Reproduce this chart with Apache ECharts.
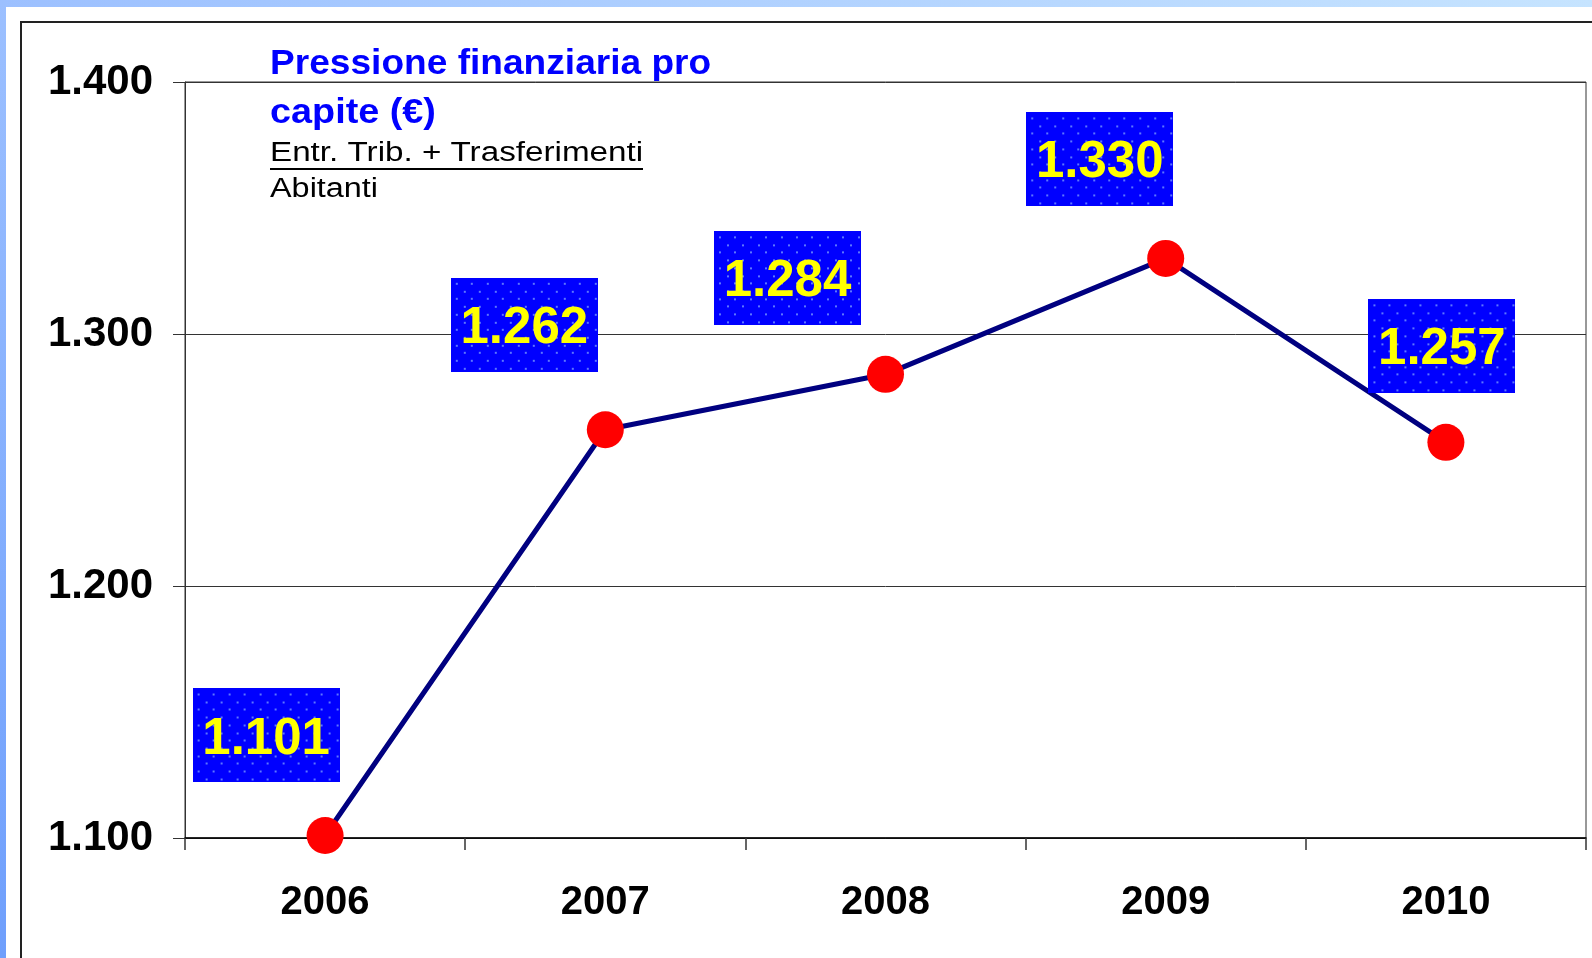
<!DOCTYPE html>
<html>
<head>
<meta charset="utf-8">
<script src="https://cdn.jsdelivr.net/npm/echarts@6/dist/echarts.min.js"></script>
<style>
  html, body { margin: 0; padding: 0; background: #fff; }
  #chart { width: 1592px; height: 958px; }
</style>
</head>
<body>
<div id="chart"></div>
<script>
// dati
const anni = ['2006', '2007', '2008', '2009', '2010']
const pressione = [1101, 1262, 1284, 1330, 1257]
const yTicks = [1100, 1200, 1300, 1400]

// spostamento dell'angolo alto delle etichette rispetto al punto (solo layout)
const labelOffsets = [[-59, -147], [-81, -152], [-98, -143], [-66, -146], [-4, -143]]

const fmt = v => (v / 1000).toFixed(3)

// sfondo blu puntinato delle etichette
const boxW = 147, boxH = 94
const pattern = document.createElement('canvas')
pattern.width = boxW
pattern.height = boxH
const ctx = pattern.getContext('2d')
ctx.fillStyle = '#0000ff'
ctx.fillRect(0, 0, boxW, boxH)
ctx.fillStyle = 'rgba(110,140,255,0.85)'
for (let r = 0, y = 5; y < boxH; r++, y += 7.7) {
    for (let x = (r % 2 ? 12.7 : 5); x < boxW; x += 15.4) {
        ctx.fillRect(Math.round(x), Math.round(y), 2, 2)
    }
}

const font = '"Liberation Sans", Arial, sans-serif'
const chart = echarts.init(document.getElementById('chart'))
const option = {
    animation: false,
    grid: {
        left: 185, top: 82, right: 6, bottom: 120,
        show: true,
        borderColor: '#333',
        borderWidth: 1
    },
    graphic: [
        {
            type: 'rect', z: -10, silent: true,
            shape: { x: 0, y: 0, width: 1592, height: 7 },
            style: {
                fill: new echarts.graphic.LinearGradient(0, 0, 1, 0, [
                    { offset: 0, color: '#9cc0ff' }, { offset: 1, color: '#c6e4ff' }
                ])
            }
        },
        {
            type: 'rect', z: -10, silent: true,
            shape: { x: 0, y: 0, width: 6, height: 958 },
            style: {
                fill: new echarts.graphic.LinearGradient(0, 0, 0, 1, [
                    { offset: 0, color: '#9cc0ff' }, { offset: 1, color: '#6f9ffc' }
                ])
            }
        },
        {
            type: 'polyline', silent: true,
            shape: { points: [[21, 958], [21, 22], [1592, 22]] },
            style: { stroke: '#222', lineWidth: 2, fill: null }
        },
        {
            type: 'text', x: 270, y: 47, scaleX: 1.06,
            style: { text: 'Pressione finanziaria pro', fill: '#0000ff', font: 'bold 35px ' + font, verticalAlign: 'top' }
        },
        {
            type: 'text', x: 270, y: 96, scaleX: 1.08,
            style: { text: 'capite (€)', fill: '#0000ff', font: 'bold 35px ' + font, verticalAlign: 'top' }
        },
        {
            type: 'text', x: 270, y: 140, scaleX: 1.23,
            style: { text: 'Entr. Trib. + Trasferimenti', fill: '#000', font: '27px ' + font, verticalAlign: 'top' }
        },
        {
            type: 'line', silent: true,
            shape: { x1: 270, y1: 169, x2: 643, y2: 169 },
            style: { stroke: '#000', lineWidth: 2 }
        },
        {
            type: 'text', x: 270, y: 176, scaleX: 1.2,
            style: { text: 'Abitanti', fill: '#000', font: '27px ' + font, verticalAlign: 'top' }
        }
    ],
    xAxis: {
        type: 'category',
        data: anni,
        boundaryGap: true,
        axisLine: { lineStyle: { color: '#000', width: 1.5 } },
        axisTick: { show: true, length: 12, lineStyle: { color: '#333', width: 1.5 } },
        axisLabel: {
            margin: 45,
            color: '#000',
            fontSize: 40,
            fontWeight: 'bold',
            fontFamily: font
        }
    },
    yAxis: {
        type: 'value',
        min: yTicks[0],
        max: yTicks[yTicks.length - 1],
        interval: 100,
        axisLine: { show: true, lineStyle: { color: '#333', width: 1 } },
        axisTick: { show: true, length: 12, lineStyle: { color: '#333' } },
        splitLine: { show: true, lineStyle: { color: '#333', width: 1 } },
        axisLabel: {
            margin: 32,
            color: '#000',
            fontSize: 42,
            fontWeight: 'bold',
            fontFamily: font,
            formatter: fmt
        }
    },
    series: [{
        type: 'line',
        data: pressione.map((v, i) => ({
            value: v,
            label: { offset: labelOffsets[i] }
        })),
        symbol: 'circle',
        symbolSize: 37,
        itemStyle: { color: '#ff0000' },
        lineStyle: { color: '#000080', width: 5 },
        z: 3,
        label: {
            show: true,
            position: 'inside',
            formatter: p => fmt(p.value),
            color: '#ffff00',
            fontSize: 51,
            fontWeight: 'bold',
            fontFamily: font,
            width: boxW,
            height: boxH,
            lineHeight: boxH + 8,
            align: 'center',
            verticalAlign: 'top',
            padding: 0,
            backgroundColor: { image: pattern }
        }
    }]
}
chart.setOption(option)
</script>
</body>
</html>
